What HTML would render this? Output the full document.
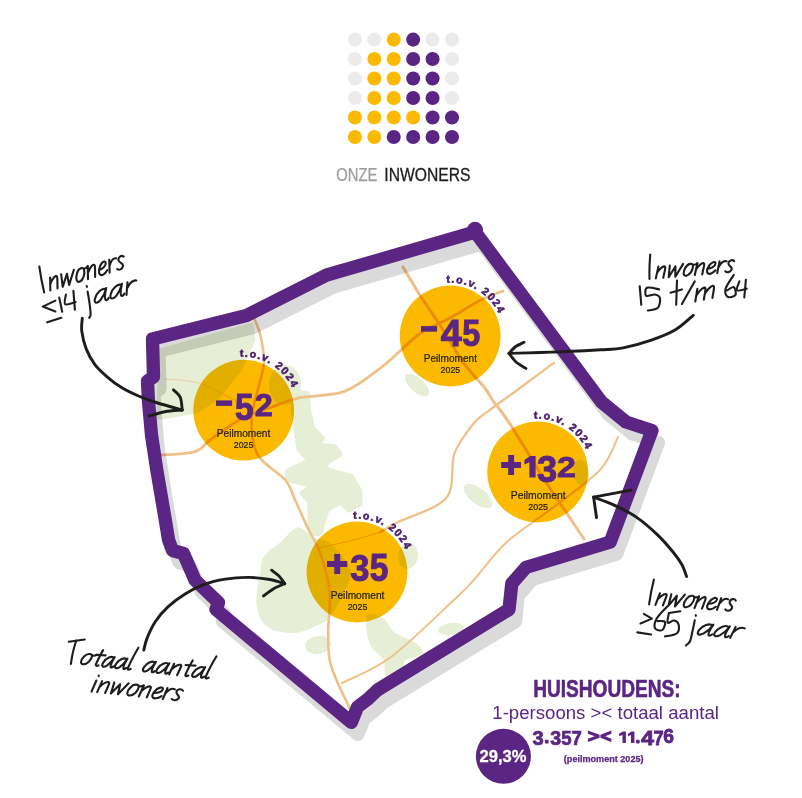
<!DOCTYPE html>
<html lang="nl">
<head>
<meta charset="utf-8">
<title>Onze inwoners</title>
<style>
html,body{margin:0;padding:0;background:#fff;}
body{width:802px;height:798px;overflow:hidden;position:relative;font-family:"Liberation Sans",sans-serif;}
svg{position:absolute;left:0;top:0;display:block;}
text{font-family:"Liberation Sans",sans-serif;}
.num{font-weight:bold;fill:#5b2583;font-size:30px;stroke:#5b2583;stroke-width:0.8px;}
.num2{font-weight:bold;fill:#5b2583;font-size:30px;stroke:#5b2583;stroke-width:1.1px;}
.peil{fill:#1d1d1b;font-size:10.5px;stroke:#1d1d1b;stroke-width:0.2px;}
.tov{font-weight:bold;fill:#4a1d6e;font-size:10.5px;letter-spacing:1.4px;stroke:#4a1d6e;stroke-width:0.6px;}
.hand{fill:none;stroke:#1d1d1b;stroke-width:2.1;stroke-linecap:round;stroke-linejoin:round;}
</style>
</head>
<body>
<svg width="802" height="798" viewBox="0 0 802 798">
<defs>
<clipPath id="mapclip"><path id="mapshape" d="M152.5,339 L246.5,315.5 L326.8,275 L475.2,232 L601.5,402 L626,422 L652,430.5 L610.2,542.2 L526,567.3 L511.8,583.5 L509,609.5 L377.5,690 L368,699 L357.5,707 L351.4,722.3 L216,609.5 L218.5,602.5 L195,580 L183.5,553.5 L172.5,550.5 L168.6,540 L165.3,520 L156.8,470 L151.5,435 L148.4,400 L147.5,381 L153.5,377 Z"/></clipPath>
</defs>

<!-- dot grid -->
<g id="dots">
<circle cx="354.90" cy="39.60" r="7.03" fill="#ebebeb"/>
<circle cx="374.32" cy="39.60" r="7.03" fill="#ebebeb"/>
<circle cx="393.74" cy="39.60" r="7.03" fill="#fbba00"/>
<circle cx="413.16" cy="39.60" r="7.03" fill="#5b2583"/>
<circle cx="432.58" cy="39.60" r="7.03" fill="#ebebeb"/>
<circle cx="452.00" cy="39.60" r="7.03" fill="#ebebeb"/>
<circle cx="354.90" cy="59.07" r="7.03" fill="#ebebeb"/>
<circle cx="374.32" cy="59.07" r="7.03" fill="#fbba00"/>
<circle cx="393.74" cy="59.07" r="7.03" fill="#fbba00"/>
<circle cx="413.16" cy="59.07" r="7.03" fill="#5b2583"/>
<circle cx="432.58" cy="59.07" r="7.03" fill="#5b2583"/>
<circle cx="452.00" cy="59.07" r="7.03" fill="#ebebeb"/>
<circle cx="354.90" cy="78.54" r="7.03" fill="#ebebeb"/>
<circle cx="374.32" cy="78.54" r="7.03" fill="#fbba00"/>
<circle cx="393.74" cy="78.54" r="7.03" fill="#fbba00"/>
<circle cx="413.16" cy="78.54" r="7.03" fill="#5b2583"/>
<circle cx="432.58" cy="78.54" r="7.03" fill="#5b2583"/>
<circle cx="452.00" cy="78.54" r="7.03" fill="#ebebeb"/>
<circle cx="354.90" cy="98.01" r="7.03" fill="#ebebeb"/>
<circle cx="374.32" cy="98.01" r="7.03" fill="#fbba00"/>
<circle cx="393.74" cy="98.01" r="7.03" fill="#fbba00"/>
<circle cx="413.16" cy="98.01" r="7.03" fill="#5b2583"/>
<circle cx="432.58" cy="98.01" r="7.03" fill="#5b2583"/>
<circle cx="452.00" cy="98.01" r="7.03" fill="#ebebeb"/>
<circle cx="354.90" cy="117.48" r="7.03" fill="#fbba00"/>
<circle cx="374.32" cy="117.48" r="7.03" fill="#fbba00"/>
<circle cx="393.74" cy="117.48" r="7.03" fill="#fbba00"/>
<circle cx="413.16" cy="117.48" r="7.03" fill="#fbba00"/>
<circle cx="432.58" cy="117.48" r="7.03" fill="#5b2583"/>
<circle cx="452.00" cy="117.48" r="7.03" fill="#5b2583"/>
<circle cx="354.90" cy="136.95" r="7.03" fill="#fbba00"/>
<circle cx="374.32" cy="136.95" r="7.03" fill="#fbba00"/>
<circle cx="393.74" cy="136.95" r="7.03" fill="#5b2583"/>
<circle cx="413.16" cy="136.95" r="7.03" fill="#5b2583"/>
<circle cx="432.58" cy="136.95" r="7.03" fill="#5b2583"/>
<circle cx="452.00" cy="136.95" r="7.03" fill="#5b2583"/>
</g>

<!-- title -->
<g id="title">
<text x="336.3" y="180.6" font-size="17.6" fill="#9d9d9c" stroke="#9d9d9c" stroke-width="0.25" textLength="41.2" lengthAdjust="spacingAndGlyphs">ONZE</text>
<text x="384.3" y="180.6" font-size="17.6" fill="#1d1d1b" stroke="#1d1d1b" stroke-width="0.3" textLength="86.2" lengthAdjust="spacingAndGlyphs">INWONERS</text>
</g>

<!-- map -->
<g id="map">
<g clip-path="url(#mapclip)" id="mapinner">
<path d="M160.0,350.0 L252.0,324.0 L254.0,340.0 L240.0,370.0 L216.0,400.0 L196.0,412.0 L162.0,418.0 L158.0,418.0 Z" fill="#e6efd6" stroke="#e6efd6" stroke-width="3" stroke-linejoin="round"/>
<path d="M294.0,392.4 L307.2,393.2 L308.6,410.3 L312.7,428.2 L322.4,437.9 L317.7,445.6 L334.8,446.7 L340.3,453.9 L327.0,462.7 L324.3,468.8 L351.3,476.5 L359.6,490.3 L360.1,504.1 L349.1,510.1 L340.8,501.9 L327.0,509.6 L323.7,521.2 L312.7,523.4 L309.4,501.3 L302.2,493.0 L312.7,485.3 L298.9,482.6 L287.3,479.3 L287.9,471.0 L309.4,460.5 L298.9,449.5 L296.2,429.6 L292.9,410.3 Z" fill="#e6efd6" stroke="#e6efd6" stroke-width="5" stroke-linejoin="round"/>
<ellipse cx="285" cy="385" rx="16" ry="20" fill="#e6efd6"/>
<path d="M297.9,527.6 C303.2,526.9 307.5,534.5 313.1,537.2 C318.6,540.0 324.8,538.8 331.0,544.1 C337.2,549.4 348.0,561.1 350.3,568.9 C352.6,576.7 348.0,583.2 344.8,591.0 C341.6,598.8 334.7,610.5 331.0,615.8 C327.3,621.1 328.7,619.8 322.7,622.7 C316.7,625.5 304.3,632.2 295.1,632.9 C286.0,633.6 274.0,631.5 267.6,626.8 C261.1,622.1 257.7,614.4 256.5,604.8 C255.4,595.1 259.3,577.2 260.7,568.9 C262.1,560.7 261.4,559.7 264.8,555.1 C268.3,550.5 275.8,546.0 281.4,541.4 C286.9,536.8 292.6,528.3 297.9,527.6 Z" fill="#e6efd6"/>
<path d="M308.9,500.0 C311.2,494.9 320.0,496.3 322.7,500.0 C325.5,503.7 325.9,516.1 325.5,522.1 C325.0,528.0 322.7,534.5 320.0,535.8 C317.2,537.2 310.8,536.3 308.9,530.3 C307.1,524.4 306.6,505.1 308.9,500.0 Z" fill="#e6efd6"/>
<path d="M366.8,615.8 C369.1,611.7 378.8,615.8 383.4,618.6 C388.0,621.3 388.9,628.2 394.4,632.3 C399.9,636.5 411.9,639.7 416.5,643.4 C421.0,647.0 423.8,651.6 422.0,654.4 C420.1,657.2 408.6,657.2 405.4,659.9 C402.2,662.7 405.9,668.2 402.7,670.9 C399.5,673.7 389.3,678.3 386.1,676.5 C382.9,674.6 386.1,665.4 383.4,659.9 C380.6,654.4 372.3,650.7 369.6,643.4 C366.8,636.0 364.5,619.9 366.8,615.8 Z" fill="#e6efd6"/>
<ellipse cx="417" cy="385" rx="7" ry="15" transform="rotate(-48 417 385)" fill="#e6efd6"/>
<ellipse cx="478" cy="496" rx="8" ry="17" transform="rotate(-52 478 496)" fill="#e6efd6"/>
<ellipse cx="581" cy="473" rx="8" ry="13" transform="rotate(-10 581 473)" fill="#e6efd6"/>
<ellipse cx="451" cy="629" rx="13" ry="6" transform="rotate(-8 451 629)" fill="#e6efd6"/>
<ellipse cx="318" cy="645" rx="13" ry="9" transform="rotate(-10 318 645)" fill="#e6efd6"/>
<ellipse cx="408" cy="556" rx="10" ry="13" transform="rotate(10 408 556)" fill="#e6efd6"/>
<path d="M254.0,318.0 C255.1,320.8 258.6,327.6 260.3,335.0 C262.0,342.4 264.4,353.4 264.0,362.6 C263.6,371.8 259.9,380.4 257.8,390.0 C255.7,399.6 251.5,409.2 251.5,420.0 C251.5,430.8 252.2,445.0 257.8,455.0 C263.4,465.0 279.1,472.5 285.3,480.0 C291.5,487.5 291.4,492.1 295.1,500.0 C298.8,507.9 303.4,518.9 307.5,527.6 C311.6,536.3 316.3,541.8 320.0,552.4 C323.7,563.0 328.2,577.7 329.6,591.0 C331.0,604.3 328.0,619.9 328.2,632.3 C328.4,644.7 327.3,652.5 331.0,665.4 C334.7,678.3 345.1,698.7 350.3,709.5 C355.5,720.3 360.1,726.6 362.0,730.0" fill="none" stroke="#efc088" stroke-width="2.6" stroke-linejoin="round" stroke-linecap="round"/>
<path d="M161.0,455.0 C166.7,454.4 186.4,454.5 195.0,451.6 C203.6,448.7 204.7,443.4 212.7,437.8 C220.7,432.2 233.4,423.0 243.0,418.0 C252.6,413.0 260.5,411.1 270.0,407.7 C279.5,404.3 287.6,400.4 300.0,397.7 C312.4,395.0 330.9,396.5 344.5,391.4 C358.1,386.3 369.3,376.6 381.9,367.0 C394.5,357.4 408.6,341.7 420.0,333.5 C431.4,325.3 439.9,323.6 450.0,318.0 C460.1,312.4 472.0,304.5 480.8,300.0 C489.6,295.5 499.3,292.5 503.0,291.0" fill="none" stroke="#efc088" stroke-width="2.8" stroke-linejoin="round" stroke-linecap="round"/>
<path d="M403.0,267.0 C405.8,271.6 413.4,284.9 419.7,294.7 C426.0,304.5 433.3,314.7 440.6,326.0 C447.9,337.3 456.0,352.5 463.3,362.7 C470.6,372.9 479.4,381.0 484.3,387.2 C489.2,393.4 488.3,394.0 492.5,400.0 C496.7,406.0 500.8,409.8 509.6,423.4 C518.4,436.9 536.0,466.6 545.4,481.3 C554.8,496.0 559.4,502.1 565.8,511.7 C572.2,521.3 581.0,534.5 584.0,539.0" fill="none" stroke="#efc088" stroke-width="3.0" stroke-linejoin="round" stroke-linecap="round"/>
<path d="M342.0,683.0 C350.2,678.7 372.0,671.2 391.0,657.0 C410.0,642.8 442.2,610.8 456.0,598.0 C469.8,585.2 465.2,589.3 473.7,580.0 C482.2,570.7 493.9,553.8 506.8,542.0 C519.7,530.2 535.5,521.0 551.0,509.0 C566.5,497.0 588.8,482.0 600.0,470.0 C611.2,458.0 615.0,442.5 618.0,437.0" fill="none" stroke="#efc088" stroke-width="2.0" stroke-linejoin="round" stroke-linecap="round"/>
<path d="M553.7,362.8 C548.1,367.0 530.6,380.2 520.0,388.0 C509.4,395.8 498.0,403.7 490.3,409.6 C482.6,415.5 479.7,416.0 473.7,423.4 C467.7,430.8 459.0,441.3 454.4,453.7 C449.8,466.1 455.8,486.4 446.2,497.9 C436.6,509.4 407.5,517.0 396.5,522.7 C385.5,528.4 382.8,530.7 380.0,532.3" fill="none" stroke="#efc088" stroke-width="2.3" stroke-linejoin="round" stroke-linecap="round"/>
<path d="M380.0,532.3 C375.0,533.8 360.3,538.4 350.0,541.0 C339.7,543.6 323.3,546.8 318.0,548.0" fill="none" stroke="#efc088" stroke-width="0.9" stroke-linejoin="round" stroke-linecap="round"/>
<path d="M165.0,379.0 C170.4,379.6 187.6,380.0 197.6,382.7 C207.6,385.4 217.4,391.3 225.0,395.0 C232.6,398.7 240.0,403.3 243.0,405.0" fill="none" stroke="#efc088" stroke-width="0.8" stroke-linejoin="round" stroke-linecap="round"/>
</g>
<use href="#mapshape" transform="translate(6.5,12)" fill="none" stroke="#dadada" stroke-width="13.3" stroke-linejoin="round" style="mix-blend-mode:multiply"/>
<use href="#mapshape" fill="none" stroke="#5b2583" stroke-width="13.3" stroke-linejoin="round"/>
<circle cx="475" cy="229.8" r="8" fill="#5b2583"/>
</g>

<!-- bubbles -->
<g id="bubbles">
<g style="mix-blend-mode:multiply">
<circle cx="243.7" cy="410.2" r="50.4" fill="#fbba00"/>
<circle cx="450.2" cy="336.0" r="50.4" fill="#fbba00"/>
<circle cx="537.7" cy="472.0" r="50.4" fill="#fbba00"/>
<circle cx="357.0" cy="572.0" r="50.4" fill="#fbba00"/>
</g>
<g><rect x="216.0" y="400.4" width="16.1" height="5.5" fill="#5b2583"/><text class="num" transform="translate(235.06,420.16) scale(1.116,1.248)">5</text><text class="num" transform="translate(254.66,415.73) scale(1.083,1.019)">2</text></g>
<text class="peil" x="216.8" y="436.7" textLength="53.5" lengthAdjust="spacingAndGlyphs">Peilmoment</text>
<text class="peil" x="243.6" y="448.1" text-anchor="middle" style="font-size:9px" textLength="19.7" lengthAdjust="spacingAndGlyphs">2025</text>
<path id="arc0" d="M234.43,357.61 A53.4,53.4 0 0 1 297.10,410.20" fill="none"/>
<text class="tov"><textPath href="#arc0" startOffset="5.6">t.o.v. 2024</textPath></text>
<g><rect x="421.0" y="326.1" width="16.1" height="5.6" fill="#5b2583"/><text class="num" transform="translate(440.73,346.04) scale(1.259,1.242)">4</text><text class="num" transform="translate(462.29,346.16) scale(1.082,1.248)">5</text></g>
<text class="peil" x="423.8" y="361.9" textLength="53.2" lengthAdjust="spacingAndGlyphs">Peilmoment</text>
<text class="peil" x="450.4" y="373.3" text-anchor="middle" style="font-size:9px" textLength="19.7" lengthAdjust="spacingAndGlyphs">2025</text>
<path id="arc1" d="M440.93,283.41 A53.4,53.4 0 0 1 503.60,336.00" fill="none"/>
<text class="tov"><textPath href="#arc1" startOffset="5.6">t.o.v. 2024</textPath></text>
<g><path fill="#5b2583" d="M501.2,462.1 H521.0 V468.0 H501.2 Z M508.2,455.1 H514.1 V475.0 H508.2 Z"/><path fill="#5b2583" d="M530.2,456.0 H535.6 V477.6 H529.4 V462.3 L524.4,464.6 V459.9 Z"/><text class="num" transform="translate(536.97,482.13) scale(1.210,1.243)">3</text><text class="num" transform="translate(557.01,477.23) scale(1.132,1.009)">2</text></g>
<text class="peil" x="510.7" y="498.9" textLength="55.0" lengthAdjust="spacingAndGlyphs">Peilmoment</text>
<text class="peil" x="538.2" y="510.3" text-anchor="middle" style="font-size:9px" textLength="19.7" lengthAdjust="spacingAndGlyphs">2025</text>
<path id="arc2" d="M528.43,419.41 A53.4,53.4 0 0 1 591.10,472.00" fill="none"/>
<text class="tov"><textPath href="#arc2" startOffset="5.6">t.o.v. 2024</textPath></text>
<g><path fill="#5b2583" d="M327.1,561.0 H347.3 V566.9 H327.1 Z M334.3,554.0 H340.2 V573.9 H334.3 Z"/><text class="num" transform="translate(350.31,581.33) scale(1.149,1.243)">3</text><text class="num" transform="translate(369.86,581.36) scale(1.116,1.263)">5</text></g>
<text class="peil" x="330.7" y="598.9" textLength="53.7" lengthAdjust="spacingAndGlyphs">Peilmoment</text>
<text class="peil" x="357.5" y="610.3" text-anchor="middle" style="font-size:9px" textLength="19.7" lengthAdjust="spacingAndGlyphs">2025</text>
<path id="arc3" d="M347.73,519.41 A53.4,53.4 0 0 1 410.40,572.00" fill="none"/>
<text class="tov"><textPath href="#arc3" startOffset="5.6">t.o.v. 2024</textPath></text>
</g>

<!-- handwriting + arrows -->
<g id="hand">
<g class="hand" vector-effect="non-scaling-stroke">
<g transform="translate(44.2,292.4) rotate(-16.8) scale(1.210,1.250) skewX(-18)"><path vector-effect="non-scaling-stroke" transform="translate(0.0,0)" d="M-4.5,-21 C-3.4,-14 -1.9,-7 0,0"/><path vector-effect="non-scaling-stroke" transform="translate(5.0,0)" d="M0,-10 L0.3,0 M0.3,-5 C2,-9 5,-11 6,-9 C6.5,-7 6.3,-3 6.5,0"/><path vector-effect="non-scaling-stroke" transform="translate(14.5,0)" d="M0,-10 L1.5,0 L5,-9 L7,0 L11,-10.5"/><path vector-effect="non-scaling-stroke" transform="translate(27.5,0)" d="M4,-10 C1,-10 -0.5,-5 0.5,-2 C1.5,1 5,0.5 6.5,-3 C8,-7 6.5,-10.5 4,-10 M6,-9.5 C7.5,-8.5 9,-9 10,-10"/><path vector-effect="non-scaling-stroke" transform="translate(37.5,0)" d="M0,-10 L0.3,0 M0.3,-5 C2,-9 5,-11 6,-9 C6.5,-7 6.3,-3 6.5,0"/><path vector-effect="non-scaling-stroke" transform="translate(47.0,0)" d="M0.5,-4.5 C3,-4.5 6.5,-6 6,-8.5 C5.5,-11 1.5,-10 0.5,-5.5 C-0.5,-1 2,0.5 4,0 C5.5,-0.3 6.5,-1.2 7.5,-2.5"/><path vector-effect="non-scaling-stroke" transform="translate(56.0,0)" d="M0,-10 L0.5,0 M0.5,-5.5 C1.5,-8.5 3.5,-10.5 6,-9.5"/><path vector-effect="non-scaling-stroke" transform="translate(63.0,0)" d="M5.5,-9 C3.5,-11 0.5,-10 1,-7.5 C1.5,-5 5.5,-4.5 5,-2 C4.5,0.5 1.5,0.5 0,-1"/></g>
<path d="M55.4,300.6 L42.7,306.6 L55.4,311.5"/>
<path d="M47.2,322.3 L61.4,317.8"/>
<path d="M59.2,297.6 L62.2,311.8"/>
<path d="M65.9,294.6 C65.8,296.2 63.6,303.1 65.2,304.3 C66.8,305.6 73.9,302.5 75.6,302.1"/>
<path d="M73.4,290.9 L74.9,309.6"/>
<path d="M87.6,291.6 C87.9,293.5 89.0,299.1 89.5,303.0 C90.0,306.9 90.7,312.3 90.6,314.8 C90.5,317.3 89.3,317.3 89.1,317.8"/>
<path d="M86.7,286.2 L87.0,286.8"/>
<g transform="translate(94.3,303.6) rotate(-15.1) scale(1.550,1.200) skewX(-18)"><path vector-effect="non-scaling-stroke" transform="translate(0.0,0)" d="M6.5,-9 C4,-11.5 0.5,-8 0,-4 C-0.5,0 2,1 4,-1.5 C5.5,-3.5 6.5,-7 6.8,-10 C6.5,-6 6.5,-2 7.5,-0.5 C8,0.3 9,-0.3 9.5,-1.5"/><path vector-effect="non-scaling-stroke" transform="translate(10.5,0)" d="M6.5,-9 C4,-11.5 0.5,-8 0,-4 C-0.5,0 2,1 4,-1.5 C5.5,-3.5 6.5,-7 6.8,-10 C6.5,-6 6.5,-2 7.5,-0.5 C8,0.3 9,-0.3 9.5,-1.5"/><path vector-effect="non-scaling-stroke" transform="translate(21.0,0)" d="M0,-10 L0.5,0 M0.5,-5.5 C1.5,-8.5 3.5,-10.5 6,-9.5"/></g>
<g transform="translate(649.5,278.9) rotate(-4.9) scale(1.203,1.150) skewX(-18)"><path vector-effect="non-scaling-stroke" transform="translate(0.0,0)" d="M-4.5,-21 C-3.4,-14 -1.9,-7 0,0"/><path vector-effect="non-scaling-stroke" transform="translate(5.0,0)" d="M0,-10 L0.3,0 M0.3,-5 C2,-9 5,-11 6,-9 C6.5,-7 6.3,-3 6.5,0"/><path vector-effect="non-scaling-stroke" transform="translate(14.5,0)" d="M0,-10 L1.5,0 L5,-9 L7,0 L11,-10.5"/><path vector-effect="non-scaling-stroke" transform="translate(27.5,0)" d="M4,-10 C1,-10 -0.5,-5 0.5,-2 C1.5,1 5,0.5 6.5,-3 C8,-7 6.5,-10.5 4,-10 M6,-9.5 C7.5,-8.5 9,-9 10,-10"/><path vector-effect="non-scaling-stroke" transform="translate(37.5,0)" d="M0,-10 L0.3,0 M0.3,-5 C2,-9 5,-11 6,-9 C6.5,-7 6.3,-3 6.5,0"/><path vector-effect="non-scaling-stroke" transform="translate(47.0,0)" d="M0.5,-4.5 C3,-4.5 6.5,-6 6,-8.5 C5.5,-11 1.5,-10 0.5,-5.5 C-0.5,-1 2,0.5 4,0 C5.5,-0.3 6.5,-1.2 7.5,-2.5"/><path vector-effect="non-scaling-stroke" transform="translate(56.0,0)" d="M0,-10 L0.5,0 M0.5,-5.5 C1.5,-8.5 3.5,-10.5 6,-9.5"/><path vector-effect="non-scaling-stroke" transform="translate(63.0,0)" d="M5.5,-9 C3.5,-11 0.5,-10 1,-7.5 C1.5,-5 5.5,-4.5 5,-2 C4.5,0.5 1.5,0.5 0,-1"/></g>
<path d="M639.7,286.2 L641.3,304.8"/>
<path d="M659.2,289.4 C657.2,289.1 649.2,286.7 647.0,287.8 C644.8,288.9 644.9,294.8 646.2,295.9 C647.5,297.0 652.7,294.1 655.0,294.5 C657.3,294.9 659.6,296.2 660.0,298.5 C660.4,300.8 659.6,306.1 657.6,308.1 C655.6,310.1 649.4,310.1 647.8,310.5"/>
<path d="M677.0,280.5 L676.2,304.8"/>
<path d="M670.5,292.7 L681.9,289.4"/>
<path d="M694.8,281.3 L681.9,304.0"/>
<g transform="translate(694.8,301.6) rotate(-11.9) scale(1.594,1.200) skewX(-18)"><path vector-effect="non-scaling-stroke" transform="translate(0.0,0)" d="M0,-10 L0.3,0 M0.3,-5 C2,-9 4.5,-11 5.3,-9 C5.8,-7 5.6,-3 5.8,0 M5.8,-5 C7.5,-9 10,-11 10.8,-9 C11.3,-7 11.1,-3 11.3,0"/></g>
<path d="M733.7,274.9 C732.4,277.2 726.7,285.0 725.6,288.6 C724.5,292.2 725.7,295.6 727.3,296.7 C728.9,297.8 734.3,296.7 735.4,295.1 C736.5,293.5 735.1,287.8 733.7,287.0 C732.4,286.2 728.4,289.8 727.3,290.3"/>
<path d="M739.4,281.3 C739.0,282.8 735.8,289.1 737.0,290.3 C738.2,291.5 745.1,288.9 746.7,288.6"/>
<path d="M745.9,279.7 L744.3,297.5"/>
<g transform="translate(649.1,604.4) rotate(4.6) scale(1.205,1.200) skewX(-18)"><path vector-effect="non-scaling-stroke" transform="translate(0.0,0)" d="M-4.5,-21 C-3.4,-14 -1.9,-7 0,0"/><path vector-effect="non-scaling-stroke" transform="translate(5.0,0)" d="M0,-10 L0.3,0 M0.3,-5 C2,-9 5,-11 6,-9 C6.5,-7 6.3,-3 6.5,0"/><path vector-effect="non-scaling-stroke" transform="translate(14.5,0)" d="M0,-10 L1.5,0 L5,-9 L7,0 L11,-10.5"/><path vector-effect="non-scaling-stroke" transform="translate(27.5,0)" d="M4,-10 C1,-10 -0.5,-5 0.5,-2 C1.5,1 5,0.5 6.5,-3 C8,-7 6.5,-10.5 4,-10 M6,-9.5 C7.5,-8.5 9,-9 10,-10"/><path vector-effect="non-scaling-stroke" transform="translate(37.5,0)" d="M0,-10 L0.3,0 M0.3,-5 C2,-9 5,-11 6,-9 C6.5,-7 6.3,-3 6.5,0"/><path vector-effect="non-scaling-stroke" transform="translate(47.0,0)" d="M0.5,-4.5 C3,-4.5 6.5,-6 6,-8.5 C5.5,-11 1.5,-10 0.5,-5.5 C-0.5,-1 2,0.5 4,0 C5.5,-0.3 6.5,-1.2 7.5,-2.5"/><path vector-effect="non-scaling-stroke" transform="translate(56.0,0)" d="M0,-10 L0.5,0 M0.5,-5.5 C1.5,-8.5 3.5,-10.5 6,-9.5"/><path vector-effect="non-scaling-stroke" transform="translate(63.0,0)" d="M5.5,-9 C3.5,-11 0.5,-10 1,-7.5 C1.5,-5 5.5,-4.5 5,-2 C4.5,0.5 1.5,0.5 0,-1"/></g>
<path d="M643.8,613.8 L651.9,618.6 L640.5,623.5"/>
<path d="M637.3,632.4 L651.1,634.5"/>
<path d="M667.3,606.5 C665.5,608.5 658.7,615.0 656.7,618.6 C654.7,622.2 654.2,626.5 655.1,628.4 C656.0,630.3 660.8,631.1 662.4,630.0 C664.0,628.9 665.7,623.4 664.9,621.9 C664.1,620.4 658.8,621.2 657.6,621.1"/>
<path d="M668.9,613.0 L680.3,611.3"/>
<path d="M668.9,613.0 C668.7,614.6 666.8,621.5 667.6,622.7 C668.5,624.0 672.2,620.2 674.0,620.5 C675.8,620.8 678.1,622.4 678.6,624.5 C679.1,626.6 679.3,631.2 677.0,633.2 C674.7,635.2 666.9,636.0 664.9,636.5"/>
<path d="M694.8,620.3 C694.4,622.1 693.3,627.5 692.5,631.0 C691.7,634.5 691.1,638.9 690.0,641.3 C688.9,643.7 686.6,644.7 685.9,645.4"/>
<path d="M695.7,615.2 L695.9,615.8"/>
<g transform="translate(696.5,634.4) rotate(5.9) scale(1.574,1.150) skewX(-18)"><path vector-effect="non-scaling-stroke" transform="translate(0.0,0)" d="M6.5,-9 C4,-11.5 0.5,-8 0,-4 C-0.5,0 2,1 4,-1.5 C5.5,-3.5 6.5,-7 6.8,-10 C6.5,-6 6.5,-2 7.5,-0.5 C8,0.3 9,-0.3 9.5,-1.5"/><path vector-effect="non-scaling-stroke" transform="translate(10.5,0)" d="M6.5,-9 C4,-11.5 0.5,-8 0,-4 C-0.5,0 2,1 4,-1.5 C5.5,-3.5 6.5,-7 6.8,-10 C6.5,-6 6.5,-2 7.5,-0.5 C8,0.3 9,-0.3 9.5,-1.5"/><path vector-effect="non-scaling-stroke" transform="translate(21.0,0)" d="M0,-10 L0.5,0 M0.5,-5.5 C1.5,-8.5 3.5,-10.5 6,-9.5"/></g>
<path d="M68.8,641.7 L84.7,639.5"/>
<path d="M76.2,640.6 C75.7,642.5 73.9,648.1 73.0,652.0 C72.1,655.9 71.2,661.9 70.9,663.9"/>
<g transform="translate(79.4,663.9) rotate(6.8) scale(1.223,1.100) skewX(-18)"><path vector-effect="non-scaling-stroke" transform="translate(0.0,0)" d="M4,-10 C1,-10 -0.5,-5 0.5,-2 C1.5,1 5,0.5 6.5,-3 C8,-7 6.5,-10.5 4,-10 M6,-9.5 C7.5,-8.5 9,-9 10,-10"/><path vector-effect="non-scaling-stroke" transform="translate(10.0,0)" d="M3,-15 C2.7,-10 2.7,-5 3,-1.5 C3.2,0.3 4.5,0.3 5.5,-0.8 M-0.5,-10 L7,-10.5"/><path vector-effect="non-scaling-stroke" transform="translate(18.0,0)" d="M6.5,-9 C4,-11.5 0.5,-8 0,-4 C-0.5,0 2,1 4,-1.5 C5.5,-3.5 6.5,-7 6.8,-10 C6.5,-6 6.5,-2 7.5,-0.5 C8,0.3 9,-0.3 9.5,-1.5"/><path vector-effect="non-scaling-stroke" transform="translate(28.5,0)" d="M6.5,-9 C4,-11.5 0.5,-8 0,-4 C-0.5,0 2,1 4,-1.5 C5.5,-3.5 6.5,-7 6.8,-10 C6.5,-6 6.5,-2 7.5,-0.5 C8,0.3 9,-0.3 9.5,-1.5"/><path vector-effect="non-scaling-stroke" transform="translate(39.0,0)" d="M0.5,-21 C0,-14 0,-6 0.3,-1.5 C0.5,0.5 1.8,0.3 2.8,-1"/></g>
<g transform="translate(141.9,671.3) rotate(6.3) scale(1.287,1.100) skewX(-18)"><path vector-effect="non-scaling-stroke" transform="translate(0.0,0)" d="M6.5,-9 C4,-11.5 0.5,-8 0,-4 C-0.5,0 2,1 4,-1.5 C5.5,-3.5 6.5,-7 6.8,-10 C6.5,-6 6.5,-2 7.5,-0.5 C8,0.3 9,-0.3 9.5,-1.5"/><path vector-effect="non-scaling-stroke" transform="translate(10.5,0)" d="M6.5,-9 C4,-11.5 0.5,-8 0,-4 C-0.5,0 2,1 4,-1.5 C5.5,-3.5 6.5,-7 6.8,-10 C6.5,-6 6.5,-2 7.5,-0.5 C8,0.3 9,-0.3 9.5,-1.5"/><path vector-effect="non-scaling-stroke" transform="translate(21.0,0)" d="M0,-10 L0.3,0 M0.3,-5 C2,-9 5,-11 6,-9 C6.5,-7 6.3,-3 6.5,0"/><path vector-effect="non-scaling-stroke" transform="translate(30.5,0)" d="M3,-15 C2.7,-10 2.7,-5 3,-1.5 C3.2,0.3 4.5,0.3 5.5,-0.8 M-0.5,-10 L7,-10.5"/><path vector-effect="non-scaling-stroke" transform="translate(38.5,0)" d="M6.5,-9 C4,-11.5 0.5,-8 0,-4 C-0.5,0 2,1 4,-1.5 C5.5,-3.5 6.5,-7 6.8,-10 C6.5,-6 6.5,-2 7.5,-0.5 C8,0.3 9,-0.3 9.5,-1.5"/><path vector-effect="non-scaling-stroke" transform="translate(49.0,0)" d="M0.5,-21 C0,-14 0,-6 0.3,-1.5 C0.5,0.5 1.8,0.3 2.8,-1"/></g>
<g transform="translate(91.0,691.5) rotate(6.0) scale(1.289,1.150) skewX(-18)"><path vector-effect="non-scaling-stroke" transform="translate(0.0,0)" d="M0,-10 L0.4,0 M0,-14.5 L0.1,-14"/><path vector-effect="non-scaling-stroke" transform="translate(4.5,0)" d="M0,-10 L0.3,0 M0.3,-5 C2,-9 5,-11 6,-9 C6.5,-7 6.3,-3 6.5,0"/><path vector-effect="non-scaling-stroke" transform="translate(14.0,0)" d="M0,-10 L1.5,0 L5,-9 L7,0 L11,-10.5"/><path vector-effect="non-scaling-stroke" transform="translate(27.0,0)" d="M4,-10 C1,-10 -0.5,-5 0.5,-2 C1.5,1 5,0.5 6.5,-3 C8,-7 6.5,-10.5 4,-10 M6,-9.5 C7.5,-8.5 9,-9 10,-10"/><path vector-effect="non-scaling-stroke" transform="translate(37.0,0)" d="M0,-10 L0.3,0 M0.3,-5 C2,-9 5,-11 6,-9 C6.5,-7 6.3,-3 6.5,0"/><path vector-effect="non-scaling-stroke" transform="translate(46.5,0)" d="M0.5,-4.5 C3,-4.5 6.5,-6 6,-8.5 C5.5,-11 1.5,-10 0.5,-5.5 C-0.5,-1 2,0.5 4,0 C5.5,-0.3 6.5,-1.2 7.5,-2.5"/><path vector-effect="non-scaling-stroke" transform="translate(55.5,0)" d="M0,-10 L0.5,0 M0.5,-5.5 C1.5,-8.5 3.5,-10.5 6,-9.5"/><path vector-effect="non-scaling-stroke" transform="translate(62.5,0)" d="M5.5,-9 C3.5,-11 0.5,-10 1,-7.5 C1.5,-5 5.5,-4.5 5,-2 C4.5,0.5 1.5,0.5 0,-1"/></g>
</g>
<g class="hand" style="stroke-width:2.9">
<path d="M82.3,318.3 C82.2,320.5 81.1,326.3 81.8,331.4 C82.5,336.5 84.0,343.4 86.2,348.9 C88.4,354.4 91.4,360.0 94.9,364.6 C98.4,369.2 102.7,373.0 107.1,376.8 C111.5,380.6 115.9,384.1 121.1,387.3 C126.3,390.5 132.4,393.4 138.5,396.0 C144.6,398.6 150.4,400.7 157.7,403.0 C165.0,405.3 178.1,408.8 182.2,410.0"/>
<path d="M173.5,389.9 C174.7,391.2 179.0,394.3 180.4,397.7 C181.8,401.1 181.9,407.9 182.2,410.0"/>
<path d="M182.2,410.0 C179.3,410.3 170.2,410.7 164.7,411.7 C159.2,412.7 151.6,415.3 149.0,416.0"/>
<path d="M693.2,315.3 C690.2,317.8 682.1,325.8 675.0,330.0 C667.9,334.2 659.2,337.4 650.6,340.4 C642.0,343.4 631.6,346.2 623.2,347.8 C614.9,349.4 609.9,349.2 600.5,349.8 C591.1,350.4 577.1,351.1 567.0,351.5 C556.9,351.9 549.6,352.2 540.0,352.5 C530.4,352.8 514.2,353.2 509.1,353.4"/>
<path d="M524.0,342.2 C522.5,343.0 517.5,345.1 515.0,347.0 C512.5,348.9 510.1,352.3 509.1,353.4"/>
<path d="M509.1,353.4 C510.2,354.8 513.2,359.5 516.0,362.0 C518.8,364.5 524.2,367.3 525.9,368.4"/>
<path d="M686.6,576.5 C685.8,574.5 684.0,568.4 681.7,564.3 C679.4,560.2 677.1,557.0 673.0,552.0 C668.9,547.0 663.4,540.4 657.3,534.6 C651.2,528.8 643.6,522.1 636.3,517.1 C629.0,512.1 620.7,508.2 613.6,504.9 C606.5,501.6 596.9,498.4 593.6,497.1"/>
<path d="M631.1,490.1 L593.6,497.1 L596.5,517.5"/>
<path d="M143.8,650.1 C144.3,648.1 145.1,643.2 147.0,638.4 C148.9,633.6 151.9,626.8 155.4,621.5 C158.9,616.2 163.2,611.2 168.2,606.6 C173.1,602.0 179.1,597.6 185.1,593.9 C191.1,590.2 197.5,586.9 204.2,584.4 C210.9,581.9 218.0,580.3 225.4,579.1 C232.8,577.9 241.3,577.3 248.7,577.4 C256.1,577.5 263.9,578.5 269.9,579.5 C275.9,580.5 282.2,583.0 284.7,583.7"/>
<path d="M271.6,570.2 C272.8,571.2 276.8,573.8 279.0,576.0 C281.2,578.2 283.8,582.4 284.7,583.7"/>
<path d="M284.7,583.7 C282.9,584.5 277.5,586.5 274.0,588.5 C270.5,590.5 265.2,594.8 263.5,596.0"/>
</g>
</g>

<!-- bottom right block -->
<g id="hh" fill="#5b2583">
<text x="606.9" y="696.7" text-anchor="middle" font-size="23.2" font-weight="bold" stroke="#5b2583" stroke-width="0.6" textLength="147.4" lengthAdjust="spacingAndGlyphs">HUISHOUDENS:</text>
<text x="605.6" y="719.1" text-anchor="middle" font-size="18.3" textLength="226.6" lengthAdjust="spacingAndGlyphs">1-persoons &gt;&lt; totaal aantal</text>
<text class="num2" transform="translate(532.54,744.71) scale(0.672,0.645)">3</text>
<text class="num2" transform="translate(550.25,744.71) scale(0.652,0.645)">3</text>
<text class="num2" transform="translate(561.32,744.72) scale(0.618,0.655)">5</text>
<text class="num2" transform="translate(571.60,744.92) scale(0.620,0.665)">7</text>
<text class="num2" transform="translate(641.05,745.42) scale(0.779,0.689)">4</text>
<text class="num2" transform="translate(653.61,745.42) scale(0.613,0.689)">7</text>
<text class="num2" transform="translate(663.29,743.01) scale(0.643,0.693)">6</text>
<path d="M623.0,731.5 H625.9 V743.0 H622.5 V734.9 L619.1,736.3 V733.7 Z"/>
<path d="M631.5,731.5 H634.4 V743.0 H631.0 V734.9 L628.1,736.3 V733.7 Z"/>
<rect x="544.9" y="739.7" width="3.7" height="3.7" rx="1"/>
<rect x="636" y="739.7" width="3.7" height="3.7" rx="1"/>
<path d="M587.9,730.5 L599.6,734.8 V737.7 L587.9,742 V738.7 L594.8,736.25 L587.9,733.8 Z M611.4,730.5 L600.4,734.8 V737.7 L611.4,742 V738.7 L605.2,736.25 L611.4,733.8 Z"/>
<text x="603.7" y="762" text-anchor="middle" font-size="9" font-weight="bold" stroke="#5b2583" stroke-width="0.25" textLength="79.7" lengthAdjust="spacingAndGlyphs">(peilmoment 2025)</text>
<circle cx="503.4" cy="756.3" r="27.5"/>
<text x="503" y="761.9" text-anchor="middle" font-size="15.6" font-weight="bold" fill="#fff" stroke="#fff" stroke-width="0.3" textLength="47" lengthAdjust="spacingAndGlyphs">29,3%</text>
</g>
</svg>
</body>
</html>
